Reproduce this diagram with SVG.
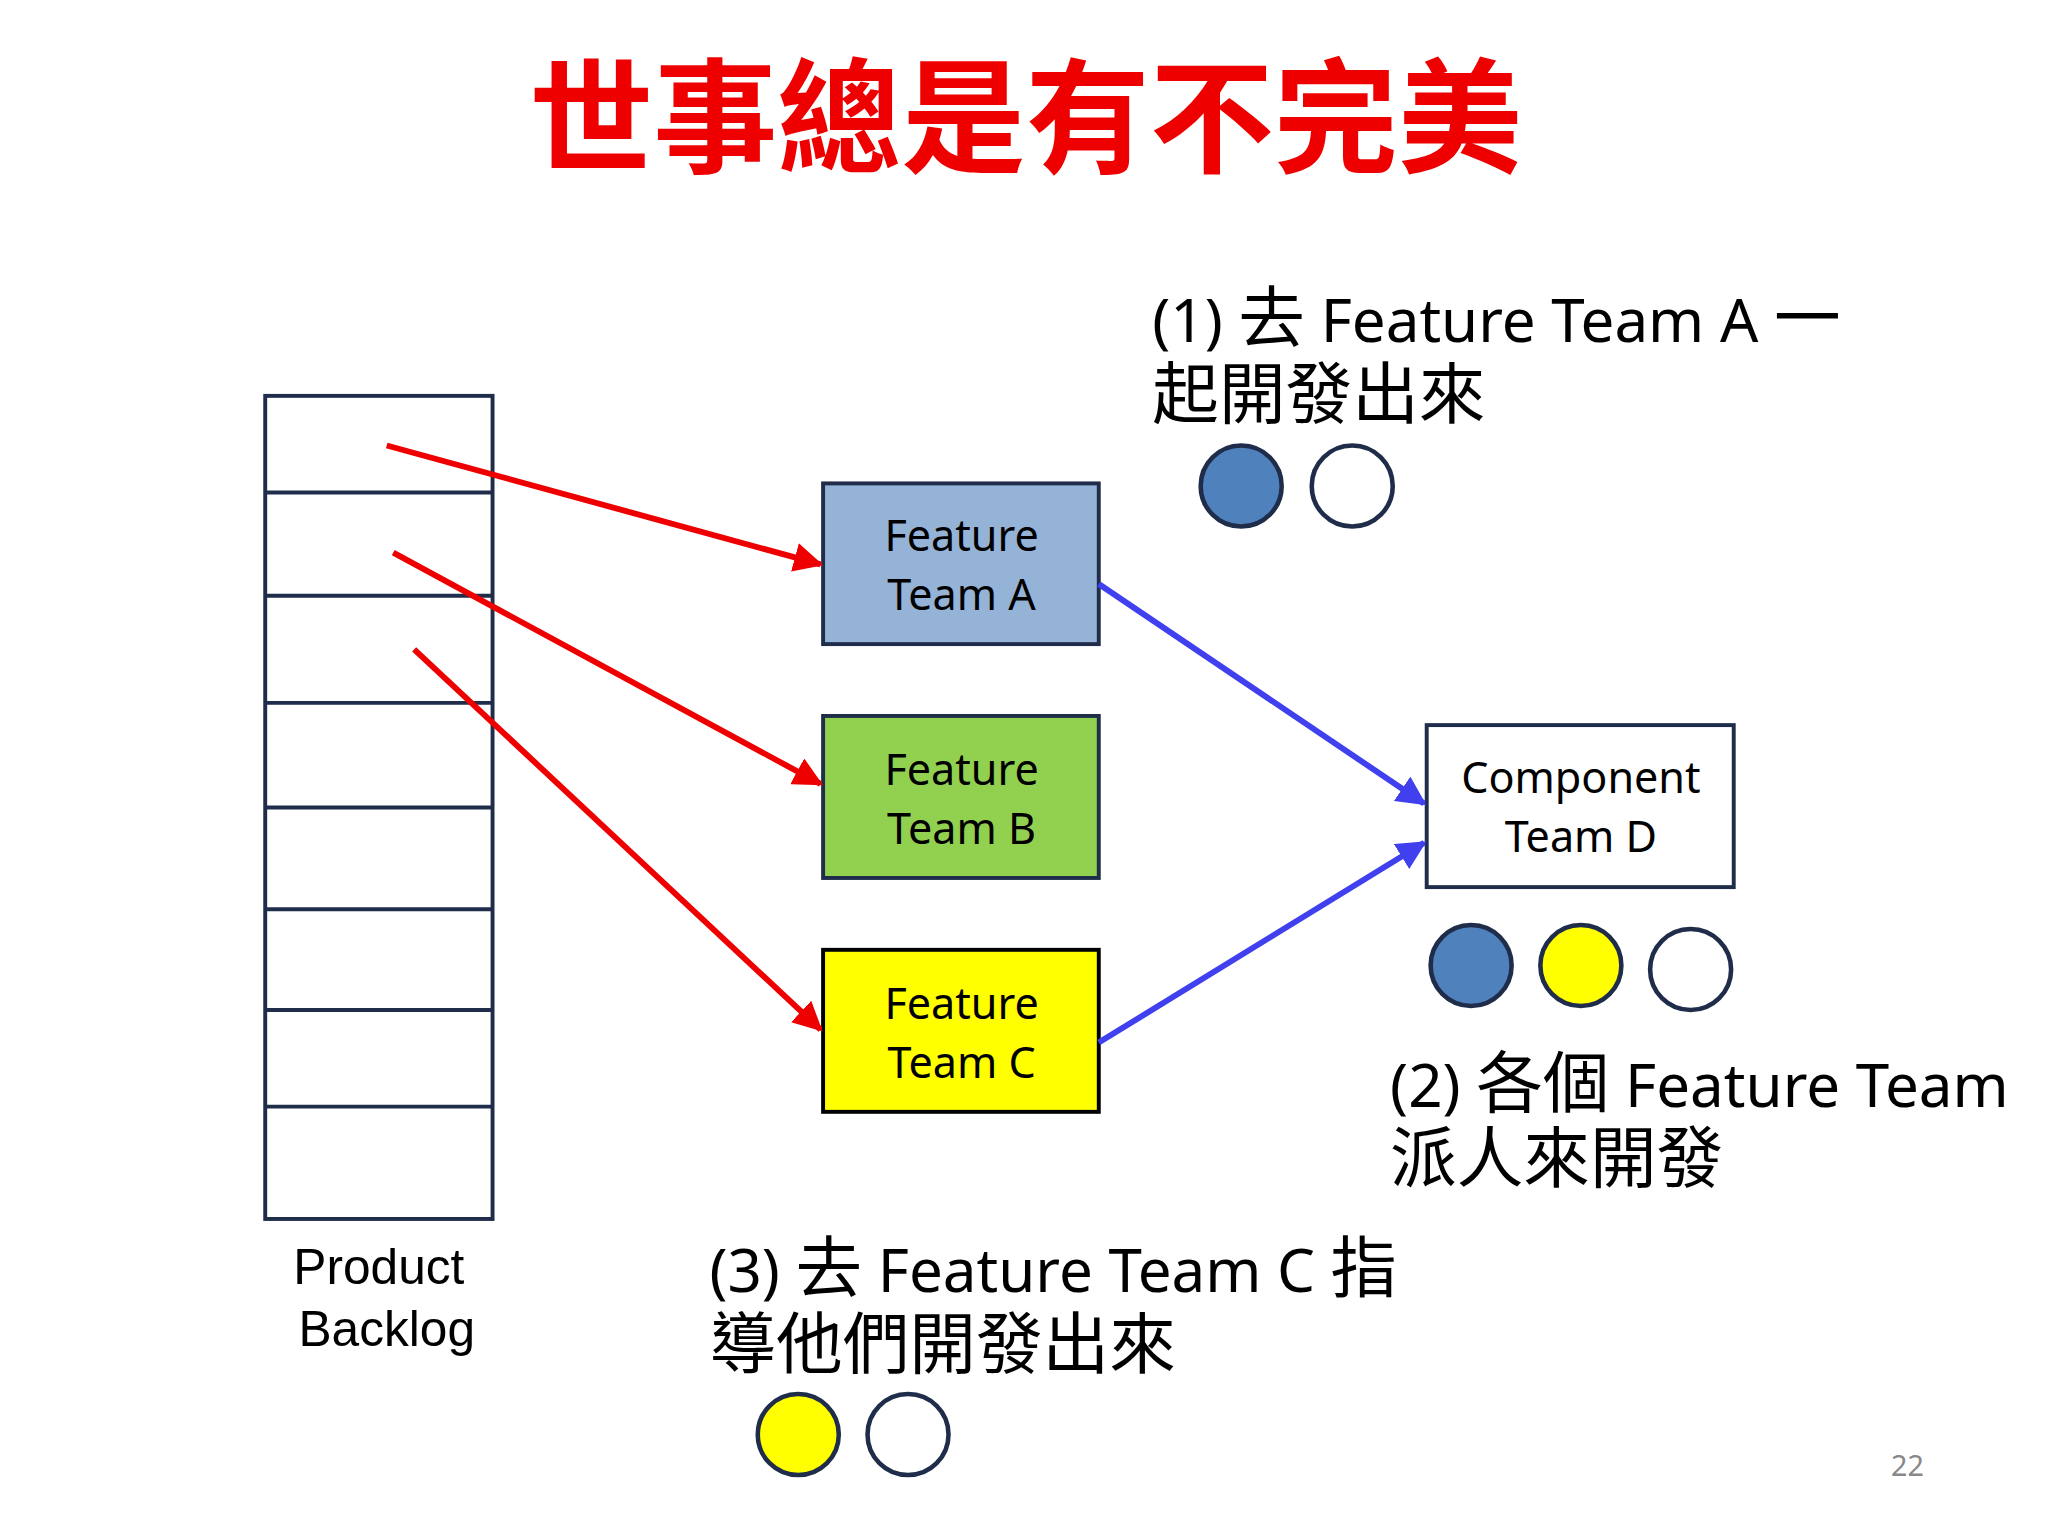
<svg xmlns="http://www.w3.org/2000/svg" width="2048" height="1536" viewBox="0 0 2048 1536">
<style>
.bk{fill:none;stroke:#1f2d4a;stroke-width:3}
.box{stroke:#1f2d4a;stroke-width:3}
.bt{font-family:"Noto Sans","Open Sans",sans-serif;font-size:33px;text-anchor:middle;fill:#000}
.lb{font-family:"Noto Sans","Noto Sans CJK TC",sans-serif;font-size:46px;fill:#000}
.cj{font-family:"Noto Sans CJK TC",sans-serif;font-size:51px}
.c{stroke:#1f2d4a;stroke-width:3.5}
</style>
<defs>
<marker id="ar" viewBox="0 0 10 10" refX="9" refY="5" markerWidth="5" markerHeight="5" orient="auto" markerUnits="strokeWidth"><path d="M0,0L10,5L0,10z" fill="#ee0000"/></marker>
<marker id="ab" viewBox="0 0 10 10" refX="9" refY="5" markerWidth="5" markerHeight="5" orient="auto" markerUnits="strokeWidth"><path d="M0,0L10,5L0,10z" fill="#4040ee"/></marker>
</defs>
<rect width="2048" height="1536" fill="#fff"/>
<g transform="scale(1.3065)">
<text x="785" y="125" font-family="Noto Sans CJK TC,sans-serif" font-weight="bold" font-size="95" fill="#ee0000" text-anchor="middle">世事總是有不完美</text>
<g id="backlog">
<rect class="bk" x="203" y="303" width="174" height="630"/>
<path class="bk" d="M203 377H377M203 456H377M203 538H377M203 618H377M203 696H377M203 773H377M203 847H377"/>
<text x="290" y="983" font-family="Liberation Sans,sans-serif" font-size="38" text-anchor="middle">Product</text>
<text x="296" y="1030" font-family="Liberation Sans,sans-serif" font-size="38" text-anchor="middle">Backlog</text>
</g>
<g id="teamA"><rect class="box" x="630" y="370" width="211" height="123" fill="#95b3d7"/><text class="bt" x="736" y="422">Feature</text><text class="bt" x="736" y="467">Team A</text></g>
<g id="teamB"><rect class="box" x="630" y="548" width="211" height="124" fill="#92d050"/><text class="bt" x="736" y="601">Feature</text><text class="bt" x="736" y="646">Team B</text></g>
<g id="teamC"><rect x="630" y="727" width="211" height="124" fill="#ffff00" stroke="#000" stroke-width="3"/><text class="bt" x="736" y="780">Feature</text><text class="bt" x="736" y="825">Team C</text></g>
<g id="teamD"><rect class="box" x="1092" y="555" width="235" height="124" fill="#fff"/><text class="bt" x="1210" y="607">Component</text><text class="bt" x="1210" y="652">Team D</text></g>
<g id="connectors" stroke-width="4.5" fill="none">
<line x1="296" y1="341" x2="628" y2="432" stroke="#ee0000" marker-end="url(#ar)"/>
<line x1="301" y1="423" x2="628" y2="600" stroke="#ee0000" marker-end="url(#ar)"/>
<line x1="317" y1="497" x2="628" y2="788" stroke="#ee0000" marker-end="url(#ar)"/>
<line x1="841" y1="447" x2="1090" y2="615" stroke="#4040ee" marker-end="url(#ab)"/>
<line x1="841" y1="798" x2="1090" y2="645" stroke="#4040ee" marker-end="url(#ab)"/>
</g>
<g id="circles">
<circle class="c" cx="950" cy="372" r="31" fill="#4f81bd"/><circle class="c" cx="1035" cy="372" r="31" fill="#fff"/>
<circle class="c" cx="1126" cy="739" r="31" fill="#4f81bd"/><circle class="c" cx="1210" cy="739" r="31" fill="#ffff00"/><circle class="c" cx="1294" cy="742" r="31" fill="#fff"/>
<circle class="c" cx="611" cy="1098" r="31" fill="#ffff00"/><circle class="c" cx="695" cy="1098" r="31" fill="#fff"/>
</g>
<g id="notes">
<text class="lb" x="882" y="262">(1) <tspan class="cj">去</tspan> Feature Team A <tspan class="cj">一</tspan></text>
<text class="lb cj" x="882" y="320">起開發出來</text>
<text class="lb" x="1064" y="847">(2) <tspan class="cj">各個</tspan> Feature Team</text>
<text class="lb cj" x="1064" y="905">派人來開發</text>
<text class="lb" x="543" y="989">(3) <tspan class="cj">去</tspan> Feature Team C <tspan class="cj">指</tspan></text>
<text class="lb cj" x="543" y="1047">導他們開發出來</text>
<text x="1460" y="1130" font-family="Noto Sans,sans-serif" font-size="22" fill="#888" text-anchor="middle">22</text>
</g>
</g>
</svg>
